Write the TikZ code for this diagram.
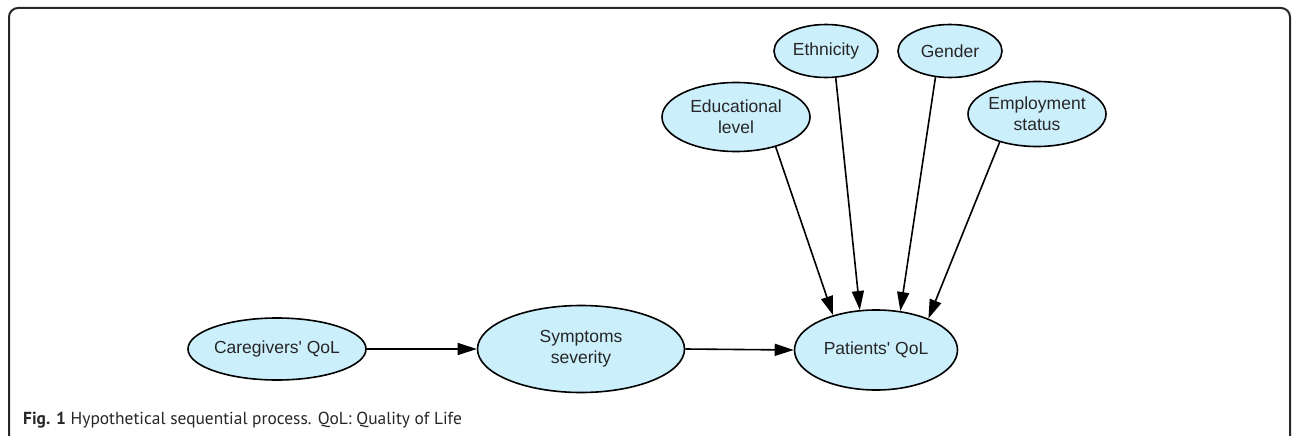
\documentclass[tikz,border=0pt]{standalone}
\usepackage{fontspec}
\setmainfont{Liberation Sans}[Ligatures=TeXOff]
\newfontfamily\capfont{PT Sans}
\usetikzlibrary{arrows.meta,shapes.geometric}
\definecolor{nodefill}{RGB}{204,239,252}
\definecolor{framecol}{RGB}{40,40,40}
\tikzset{
  vnode/.style={ellipse, draw=black, line width=1.6pt, fill=nodefill, inner sep=0pt,
    font=\fontsize{17.5}{21}\selectfont, align=center, text=black!85},
  edge/.style={line width=1.6pt, -{Triangle[length=19pt,width=12pt]}},
}
\begin{document}
\begin{tikzpicture}[x=1pt,y=-1pt]
\useasboundingbox (0,0) rectangle (1293,436);
\draw[framecol, line width=2pt, rounded corners=9pt] (9,437) -- (9,8) -- (1290,8) -- (1290,437);
\node[vnode, minimum width=165pt, minimum height=62pt] (care) at (277,349) {Caregivers' QoL};
\node[vnode, minimum width=207pt, minimum height=87pt] (symp) at (581,349) {Symptoms\\severity};
\node[vnode, minimum width=163pt, minimum height=80pt] (pat) at (876,350) {Patients' QoL};
\node[vnode, minimum width=148pt, minimum height=69pt] (edu) at (736,117) {Educational\\level};
\node[vnode, minimum width=104pt, minimum height=53pt] (eth) at (826,51) {Ethnicity};
\node[vnode, minimum width=104pt, minimum height=53pt] (gen) at (950,51) {Gender};
\node[vnode, minimum width=138pt, minimum height=65pt] (emp) at (1037,114) {Employment\\status};
\draw[edge] (care.east) -- (symp.west);
\draw[edge] (symp.east) -- (pat.west);
\draw[edge] (edu.-37) -- (pat.141);
\draw[edge] (eth.-70) -- (pat.112);
\draw[edge] (gen.-119) -- (pat.58);
\draw[edge] (emp.-143) -- (pat.31);
\node[anchor=base west, inner sep=0pt, font=\capfont\fontsize{17.4}{21}\selectfont, text=black!85] (cap) at (23,424) {\textbf{Fig. 1} Hypothetical sequential process. QoL: Quality of Life};
\end{tikzpicture}
\end{document}
